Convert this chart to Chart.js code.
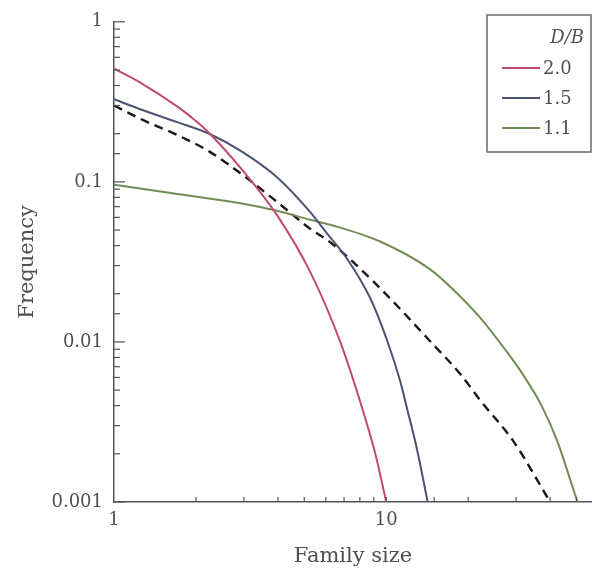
<!DOCTYPE html>
<html>
<head>
<meta charset="utf-8">
<script src="https://cdn.jsdelivr.net/npm/chart.js@4"></script>
<style>
  html, body { margin: 0; padding: 0; background: #fff; }
  #wrap { width: 592px; height: 573px; position: relative; }
</style>
</head>
<body>
<div id="wrap"><canvas id="chart"></canvas></div>
<script>
// Valores (tamano de familia vs frecuencia), escalas log-log
const sizes20 = [1, 1.28, 1.71, 2.0, 2.25, 2.98, 3.97, 5.25, 6.78, 8.22, 9.12, 10];
const freq20  = [0.51, 0.407, 0.295, 0.24, 0.20, 0.117, 0.062, 0.0275, 0.010, 0.0037, 0.0020, 0.001];

const sizes15 = [1, 1.28, 1.71, 2.25, 2.98, 3.97, 5.25, 6.07, 7.19, 8.73, 10.1, 11.25, 11.9, 13.0, 14.2];
const freq15  = [0.328, 0.28, 0.236, 0.199, 0.153, 0.107, 0.065, 0.0475, 0.033, 0.0188, 0.0101, 0.0057, 0.0039, 0.0021, 0.001];

const sizes11 = [1, 1.71, 2.98, 3.97, 5.25, 6.22, 9.5, 14.5, 17.8, 22.2, 26.9, 31.9, 37.2, 42.5, 47.4, 50.4];
const freq11  = [0.096, 0.084, 0.073, 0.066, 0.058, 0.054, 0.0424, 0.0284, 0.0209, 0.0141, 0.0093, 0.0062, 0.0040, 0.0024, 0.00138, 0.001];

const sizesRef = [1, 1.28, 1.71, 2.25, 2.98, 3.97, 5.25, 6.22, 8.96, 14.5, 18.7, 22.2, 29.3, 40];
const freqRef  = [0.30, 0.243, 0.196, 0.154, 0.110, 0.075, 0.051, 0.042, 0.0239, 0.0101, 0.0063, 0.0043, 0.0024, 0.001];

const seriesLabels = ['2.0', '1.5', '1.1'];
const legendTitle = 'D/B';
const yTickLabels = ['0.001', '0.01', '0.1', '1'];
const xTickLabels = ['1', '10'];

const serif = "'DejaVu Serif', serif";
const textColor = '#505050';
const axisColor = '#555';

function toPoints(xs, ys) {
    return xs.map((x, i) => ({ x: x, y: ys[i] }));
}

function isDecade(v) {
    const l = Math.log10(v);
    return Math.abs(l - Math.round(l)) < 1e-9;
}

// Marcas de eje hacia dentro y leyenda con recuadro
const customDraw = {
    id: 'customDraw',
    afterDatasetsDraw(chart) {
        const ctx = chart.ctx;
        const xs = chart.scales.x;
        const ys = chart.scales.y;
        const area = chart.chartArea;
        ctx.save();
        ctx.strokeStyle = axisColor;
        ctx.lineWidth = 1.2;
        ys.ticks.forEach(t => {
            const py = ys.getPixelForValue(t.value);
            const len = isDecade(t.value) ? 11 : 6;
            ctx.beginPath();
            ctx.moveTo(area.left, py);
            ctx.lineTo(area.left + len, py);
            ctx.stroke();
        });
        xs.ticks.forEach(t => {
            if (t.value <= 1 || t.value > 50) return;
            const px = xs.getPixelForValue(t.value);
            ctx.beginPath();
            ctx.moveTo(px, area.bottom);
            ctx.lineTo(px, area.bottom - 5);
            ctx.stroke();
        });

        // leyenda
        const bx = 487, by = 15, bw = 104, bh = 137;
        ctx.fillStyle = '#fff';
        ctx.fillRect(bx, by, bw, bh);
        ctx.strokeStyle = '#6a6a6a';
        ctx.lineWidth = 1.5;
        ctx.strokeRect(bx, by, bw, bh);
        ctx.fillStyle = textColor;
        ctx.font = "italic 18px " + serif;
        ctx.textAlign = 'right';
        ctx.textBaseline = 'middle';
        ctx.fillText(legendTitle, 584, 38);
        ctx.textAlign = 'left';
        ctx.font = "18px " + serif;
        chart.data.datasets.slice(0, 3).forEach((ds, i) => {
            const ly = 68 + i * 30;
            ctx.strokeStyle = ds.borderColor;
            ctx.lineWidth = 2.2;
            ctx.beginPath();
            ctx.moveTo(502, ly);
            ctx.lineTo(540, ly);
            ctx.stroke();
            ctx.fillStyle = textColor;
            ctx.fillText(ds.label, 543, ly + 1);
        });
        ctx.restore();
    }
};

const lineStyle = {
    fill: false,
    pointRadius: 0,
    borderWidth: 2,
    cubicInterpolationMode: 'monotone'
};

const ctx = document.getElementById('chart').getContext('2d');
const myChart = new Chart(ctx, {
    type: 'line',
    data: {
        datasets: [
            { ...lineStyle, label: seriesLabels[0], data: toPoints(sizes20, freq20), borderColor: '#c24a6c' },
            { ...lineStyle, label: seriesLabels[1], data: toPoints(sizes15, freq15), borderColor: '#4c5372' },
            { ...lineStyle, label: seriesLabels[2], data: toPoints(sizes11, freq11), borderColor: '#6f8d55' },
            { ...lineStyle, label: 'ref', data: toPoints(sizesRef, freqRef), borderColor: '#1a1a1a', borderDash: [9, 6], borderWidth: 2.4 }
        ]
    },
    options: {
        responsive: true,
        maintainAspectRatio: false,
        animation: false,
        layout: { autoPadding: false, padding: { top: 19, right: 0, left: 0, bottom: 0 } },
        plugins: {
            legend: { display: false },
            tooltip: { enabled: false }
        },
        scales: {
            x: {
                type: 'logarithmic',
                min: 1,
                max: 57,
                grid: { display: false, drawTicks: false },
                border: { display: true, color: axisColor, width: 1.5 },
                ticks: {
                    autoSkip: false,
                    maxRotation: 0,
                    padding: 8,
                    color: textColor,
                    font: { family: serif, size: 18 },
                    callback: function(value) {
                        const s = String(value);
                        return xTickLabels.includes(s) ? s : '';
                    }
                },
                title: {
                    display: true,
                    text: 'Family size',
                    color: textColor,
                    font: { family: serif, size: 21, lineHeight: 1 },
                    padding: { top: 0, bottom: 6 }
                },
                afterFit: function(scale) {
                    scale.height = 71;
                    scale.paddingRight = 0;
                }
            },
            y: {
                type: 'logarithmic',
                min: 0.001,
                max: 1,
                grid: { display: false, drawTicks: false },
                border: { display: true, color: axisColor, width: 1.5 },
                ticks: {
                    autoSkip: false,
                    padding: 11,
                    color: textColor,
                    font: { family: serif, size: 18 },
                    callback: function(value) {
                        if (!isDecade(value)) return '';
                        const idx = Math.round(Math.log10(value)) + 3;
                        return yTickLabels[idx];
                    }
                },
                title: {
                    display: true,
                    text: 'Frequency',
                    color: textColor,
                    font: { family: serif, size: 21, lineHeight: 1 },
                    padding: { top: 17, bottom: 0 }
                },
                afterFit: function(scale) { scale.width = 114; }
            }
        }
    },
    plugins: [customDraw]
});
</script>
</body>
</html>
